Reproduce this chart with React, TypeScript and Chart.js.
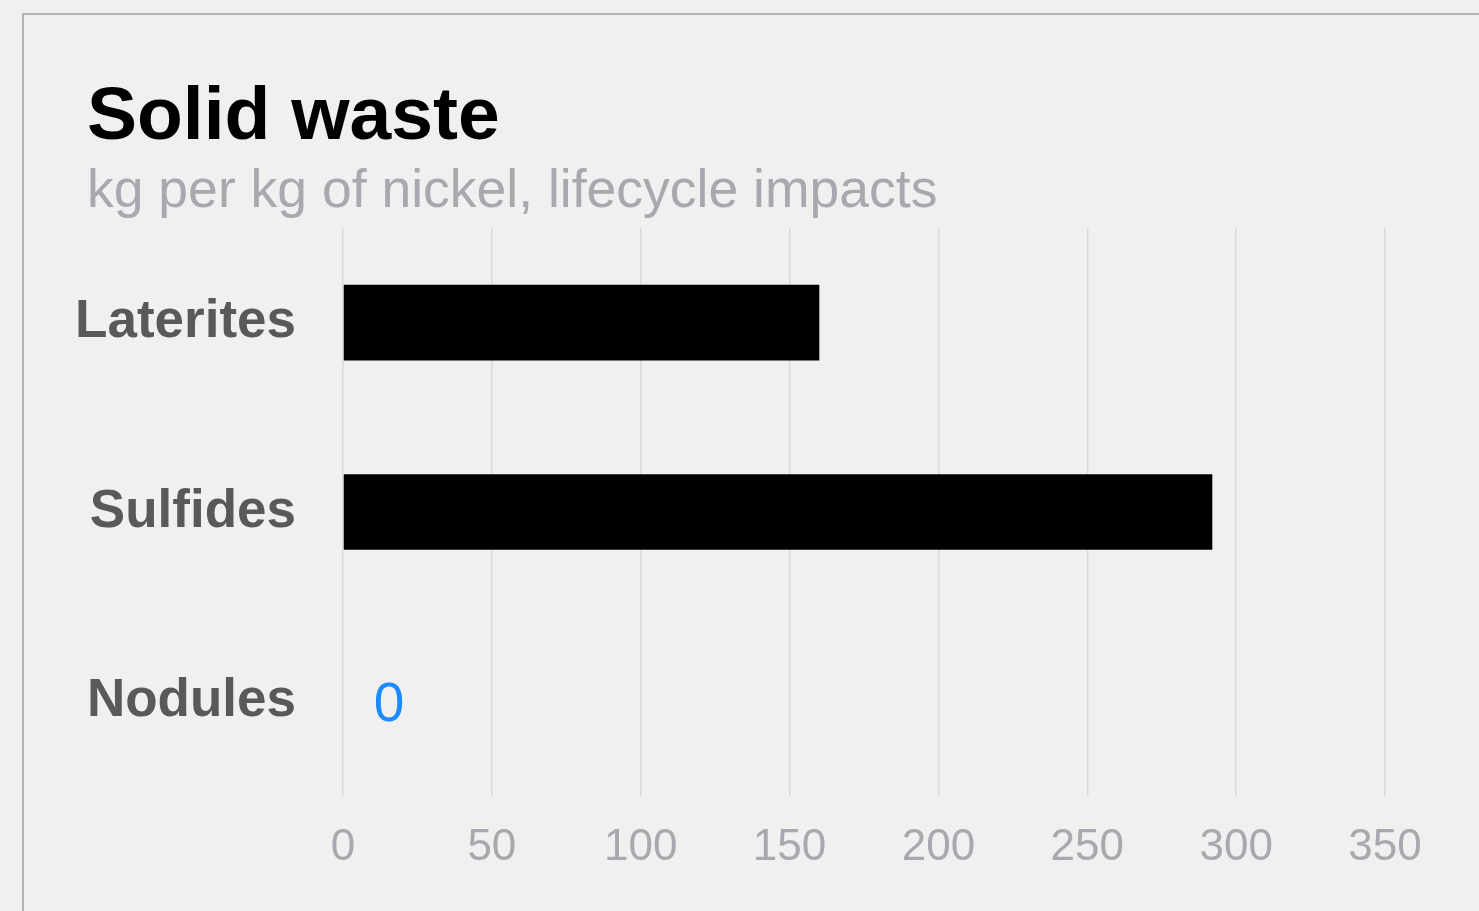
import React, { useEffect, useRef } from "react";
import { Chart, registerables } from "chart.js";

Chart.register(...registerables);

const categories = ["Laterites", "Sulfides", "Nodules"];
const values = [160, 292, 0];
const xTicks = [0, 50, 100, 150, 200, 250, 300, 350];
const titleText = "Solid waste";
const subtitleText = "kg per kg of nickel, lifecycle impacts";

const FONT = '"Liberation Sans", Arial, Helvetica, sans-serif';

const zeroLabelPlugin = {
  id: "zeroLabel",
  afterDatasetsDraw(chart: any) {
    const ctx = chart.ctx;
    const xs = chart.scales.x;
    const ys = chart.scales.y;
    const data = chart.data.datasets[0].data as number[];
    ctx.save();
    ctx.fillStyle = "#1a8cff";
    ctx.font = `55px ${FONT}`;
    ctx.textAlign = "center";
    ctx.textBaseline = "middle";
    data.forEach((v, i) => {
      if (v === 0) {
        const x = xs.getPixelForValue(v) + 46;
        const y = ys.getPixelForValue(i) + 4;
        ctx.fillText(String(v), x, y);
      }
    });
    ctx.restore();
  },
};

export default function App() {
  const ref = useRef<HTMLCanvasElement>(null);

  useEffect(() => {
    document.body.style.margin = "0";
    document.body.style.background = "#f0f0f0";
    const canvas = ref.current!;
    const chart = new Chart(canvas, {
      type: "bar",
      data: {
        labels: categories,
        datasets: [
          {
            data: values,
            backgroundColor: "#000000",
            borderWidth: 0,
            barPercentage: 0.4,
            categoryPercentage: 1,
          },
        ],
      },
      options: {
        indexAxis: "y",
        animation: false,
        responsive: false,
        maintainAspectRatio: false,
        layout: { padding: { top: 228, right: 94, left: 0, bottom: 0 } },
        plugins: {
          legend: { display: false },
          tooltip: { enabled: false },
          title: { display: false },
        },
        scales: {
          x: {
            type: "linear",
            min: 0,
            max: 350,
            afterBuildTicks: (scale: any) => {
              scale.ticks = xTicks.map((v) => ({ value: v }));
            },
            afterFit: (scale: any) => {
              scale.height = 911 - 796;
            },
            grid: {
              color: "#d9d9d9",
              lineWidth: 1.5,
              drawTicks: false,
            },
            border: { display: false },
            ticks: {
              color: "#a8a8af",
              font: { family: FONT, size: 44 },
              padding: 25,
            },
          },
          y: {
            type: "category",
            afterFit: (scale: any) => {
              scale.width = 343;
            },
            grid: { display: false, drawTicks: false },
            border: { display: false },
            ticks: {
              color: "#595959",
              font: { family: FONT, size: 53, weight: "bold" },
              padding: 47,
            },
          },
        },
      },
      plugins: [zeroLabelPlugin],
    } as any);
    return () => chart.destroy();
  }, []);

  return (
    <div
      style={{
        position: "fixed",
        left: 0,
        top: 0,
        width: 1479,
        height: 911,
        background: "#f0f0f0",
        overflow: "hidden",
      }}
    >
      <div
        style={{
          position: "absolute",
          left: 22,
          top: 13,
          width: 1479,
          height: 911,
          borderLeft: "2px solid #b3b3b8",
          borderTop: "2px solid #b3b3b8",
        }}
      />
      <div
        style={{
          position: "absolute",
          left: 87,
          top: 76,
          fontFamily: FONT,
          fontWeight: "bold",
          fontSize: 75,
          lineHeight: "75px",
          color: "#000",
          whiteSpace: "nowrap",
        }}
      >
        {titleText}
      </div>
      <div
        style={{
          position: "absolute",
          left: 87,
          top: 162,
          fontFamily: FONT,
          fontSize: 53.5,
          lineHeight: "53px",
          color: "#a8a8af",
          whiteSpace: "nowrap",
        }}
      >
        {subtitleText}
      </div>
      <canvas
        ref={ref}
        width={1479}
        height={911}
        style={{ position: "absolute", left: 0, top: 0, width: 1479, height: 911 }}
      />
    </div>
  );
}
